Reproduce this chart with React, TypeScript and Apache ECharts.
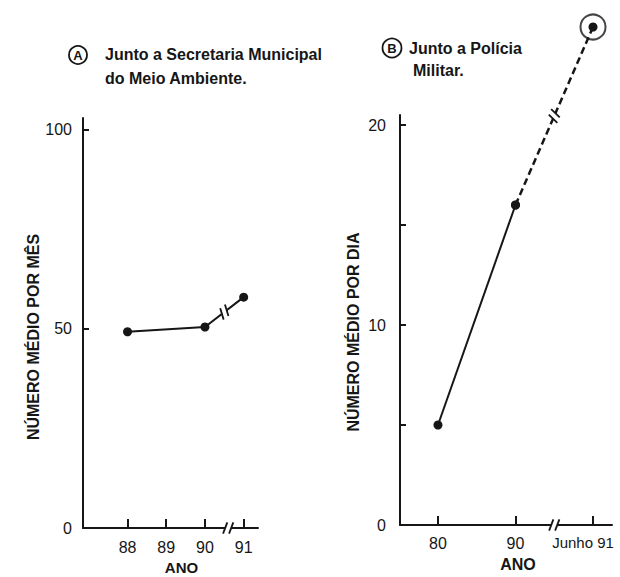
import React, { useEffect, useRef } from "react";
import * as echarts from "echarts";

// Panel A: Junto a Secretaria Municipal do Meio Ambiente (número médio por mês)
const yearsA = [88, 90, 91];
const valuesA = [49.3, 50.5, 58];
const tickYearsA = [88, 89, 90, 91];
const yLabelsA = [0, 50, 100];
const yTicksA = [50, 100];

// Panel B: Junto a Polícia Militar (número médio por dia)
const catsB = ["80", "90", "Junho 91"];
const posB = [0, 1, 2];
const valuesB = [5, 16, 24.9];
const yLabelsB = [0, 10, 20];
const yTicksB = [5, 10, 15, 20];

const INK = "#161616";
const FONT = "'Liberation Sans', Arial, sans-serif";

export default function App() {
  const ref = useRef<HTMLDivElement>(null);

  useEffect(() => {
    document.body.style.margin = "0";
    if (!ref.current) return;
    const chart = echarts.init(ref.current, undefined, { renderer: "svg" });

    const labelStyle = { color: INK, fontFamily: FONT, fontSize: 16 };
    const nameStyle = { color: INK, fontFamily: FONT, fontSize: 16, fontWeight: "bold" as const };

    const option: any = {
      animation: false,
      backgroundColor: "#ffffff",
      grid: [
        { left: 83, top: 118, width: 175, height: 410, containLabel: false, outerBoundsMode: "none" },
        { left: 400, top: 115, width: 212, height: 410, containLabel: false, outerBoundsMode: "none" },
      ],
      xAxis: [
        {
          type: "value",
          gridIndex: 0,
          min: 86.85,
          max: 91.37,
          splitLine: { show: false },
          axisLine: { onZero: false, lineStyle: { color: INK, width: 2 } },
          axisTick: { inside: true, length: 9, customValues: tickYearsA, lineStyle: { color: INK, width: 2 } },
          axisLabel: { ...labelStyle, margin: 11, customValues: tickYearsA, formatter: (v: number) => String(v) },
          name: "ANO",
          nameLocation: "middle",
          nameGap: 32,
          nameTextStyle: { ...nameStyle, fontSize: 15, padding: [0, 0, 0, 22] },
        },
        {
          type: "value",
          gridIndex: 1,
          min: -0.49,
          max: 2.245,
          splitLine: { show: false },
          axisLine: { onZero: false, lineStyle: { color: INK, width: 2 } },
          axisTick: { inside: true, length: 9, customValues: posB, lineStyle: { color: INK, width: 2 } },
          axisLabel: {
            ...labelStyle,
            margin: 10,
            customValues: posB,
            formatter: (v: number) => {
              const i = posB.indexOf(Math.round(v));
              const t = catsB[i] ?? "";
              return i === 2 ? "{j|" + t + "}" : t;
            },
            rich: { j: { ...labelStyle, fontSize: 15, padding: [0, 20, 0, 0] } },
          },
          name: "ANO",
          nameLocation: "middle",
          nameGap: 31,
          nameTextStyle: { ...nameStyle, padding: [0, 0, 0, 24] },
        },
      ],
      yAxis: [
        {
          type: "value",
          gridIndex: 0,
          min: 0,
          max: 103,
          splitLine: { show: false },
          axisLine: { show: true, onZero: false, lineStyle: { color: INK, width: 2 } },
          axisTick: { show: true, inside: true, length: 6, customValues: yTicksA, lineStyle: { color: INK, width: 2 } },
          axisLabel: { ...labelStyle, margin: 11, customValues: yLabelsA },
          name: "NÚMERO MÉDIO POR MÊS",
          nameLocation: "middle",
          nameRotate: 90,
          nameGap: 42,
          nameTextStyle: { ...nameStyle, padding: [0, 28, 0, 0] },
        },
        {
          type: "value",
          gridIndex: 1,
          min: 0,
          max: 20.5,
          splitLine: { show: false },
          axisLine: { show: true, onZero: false, lineStyle: { color: INK, width: 2 } },
          axisTick: { show: true, inside: true, length: 6, customValues: yTicksB, lineStyle: { color: INK, width: 2 } },
          axisLabel: { ...labelStyle, margin: 14, customValues: yLabelsB },
          name: "NÚMERO MÉDIO POR DIA",
          nameLocation: "middle",
          nameRotate: 90,
          nameGap: 39,
          nameTextStyle: { ...nameStyle, padding: [0, 24, 0, 0] },
        },
      ],
      series: [
        {
          type: "line",
          xAxisIndex: 0,
          yAxisIndex: 0,
          data: yearsA.map((x, i) => [x, valuesA[i]]),
          symbol: "circle",
          symbolSize: 9,
          itemStyle: { color: INK },
          lineStyle: { color: INK, width: 2 },
          z: 3,
        },
        {
          type: "line",
          xAxisIndex: 1,
          yAxisIndex: 1,
          data: [[posB[0], valuesB[0]], [posB[1], valuesB[1]]],
          symbol: "circle",
          symbolSize: 9,
          itemStyle: { color: INK },
          lineStyle: { color: INK, width: 2 },
          z: 3,
        },
        {
          type: "line",
          xAxisIndex: 1,
          yAxisIndex: 1,
          clip: false,
          data: [[posB[1], valuesB[1]], [posB[2], valuesB[2]]],
          symbol: "circle",
          symbolSize: 9,
          itemStyle: { color: INK },
          lineStyle: { color: INK, width: 2.5, type: [7, 4] },
          z: 3,
        },
        {
          type: "scatter",
          xAxisIndex: 1,
          yAxisIndex: 1,
          clip: false,
          data: [[posB[2], valuesB[2]]],
          symbol: "circle",
          symbolSize: 25,
          itemStyle: { color: "rgba(0,0,0,0)", borderColor: INK, borderWidth: 2 },
          z: 2,
        },
      ],
    };

    chart.setOption(option);

    // break marks computed from the axes' scales
    const px = (g: number, p: number[]) =>
      chart.convertToPixel({ xAxisIndex: g, yAxisIndex: g }, p) as number[];

    const breakMark = (cx: number, cy: number, ang: number) => {
      const dx = Math.cos(ang), dy = Math.sin(ang);
      const sAng = ang - Math.PI / 2.6;
      const sx = Math.cos(sAng) * 6, sy = Math.sin(sAng) * 6;
      const els: any[] = [
        {
          type: "line",
          shape: { x1: cx - dx * 3, y1: cy - dy * 3, x2: cx + dx * 3, y2: cy + dy * 3 },
          style: { stroke: "#ffffff", lineWidth: 5 },
          z: 10,
        },
      ];
      [-3, 3].forEach((o) => {
        const ox = cx + dx * o, oy = cy + dy * o;
        els.push({
          type: "line",
          shape: { x1: ox - sx, y1: oy - sy, x2: ox + sx, y2: oy + sy },
          style: { stroke: INK, lineWidth: 1.8 },
          z: 11,
        });
      });
      return els;
    };

    const aAxisBreak = px(0, [90.6, 0]);
    const bAxisBreak = px(1, [1.5, 0]);
    const a1 = px(0, [yearsA[1], valuesA[1]]);
    const a2 = px(0, [yearsA[2], valuesA[2]]);
    const b1 = px(1, [posB[1], valuesB[1]]);
    const b2 = px(1, [posB[2], valuesB[2]]);

    const mid = (p: number[], q: number[]) => [(p[0] + q[0]) / 2, (p[1] + q[1]) / 2];
    const angOf = (p: number[], q: number[]) => Math.atan2(q[1] - p[1], q[0] - p[0]);
    const ma = mid(a1, a2);
    const mb = mid(b1, b2);

    const titleText = { fontFamily: FONT, fontSize: 16, fontWeight: "bold", fill: INK };

    chart.setOption({
      graphic: [
        ...breakMark(aAxisBreak[0], aAxisBreak[1], 0),
        ...breakMark(bAxisBreak[0], bAxisBreak[1], 0),
        ...breakMark(ma[0], ma[1], angOf(a1, a2)),
        ...breakMark(mb[0], mb[1], angOf(b1, b2)),
        { type: "circle", shape: { cx: 78, cy: 55, r: 9 }, style: { fill: "none", stroke: INK, lineWidth: 1.8 } },
        { type: "text", x: 78, y: 55.5, style: { text: "A", fontFamily: FONT, fontSize: 13, fontWeight: "bold", fill: INK, align: "center", verticalAlign: "middle" } },
        { type: "text", x: 105, y: 54, style: { ...titleText, text: "Junto a Secretaria Municipal", verticalAlign: "middle" } },
        { type: "text", x: 105, y: 78, style: { ...titleText, text: "do Meio Ambiente.", verticalAlign: "middle" } },
        { type: "circle", shape: { cx: 392, cy: 48, r: 9.5 }, style: { fill: "none", stroke: INK, lineWidth: 1.8 } },
        { type: "text", x: 392, y: 48.5, style: { text: "B", fontFamily: FONT, fontSize: 13, fontWeight: "bold", fill: INK, align: "center", verticalAlign: "middle" } },
        { type: "text", x: 409, y: 48, style: { ...titleText, text: "Junto a Polícia", verticalAlign: "middle" } },
        { type: "text", x: 413, y: 70, style: { ...titleText, text: "Militar.", verticalAlign: "middle" } },
      ],
    });

    return () => chart.dispose();
  }, []);

  return <div ref={ref} style={{ width: 620, height: 577 }} />;
}
